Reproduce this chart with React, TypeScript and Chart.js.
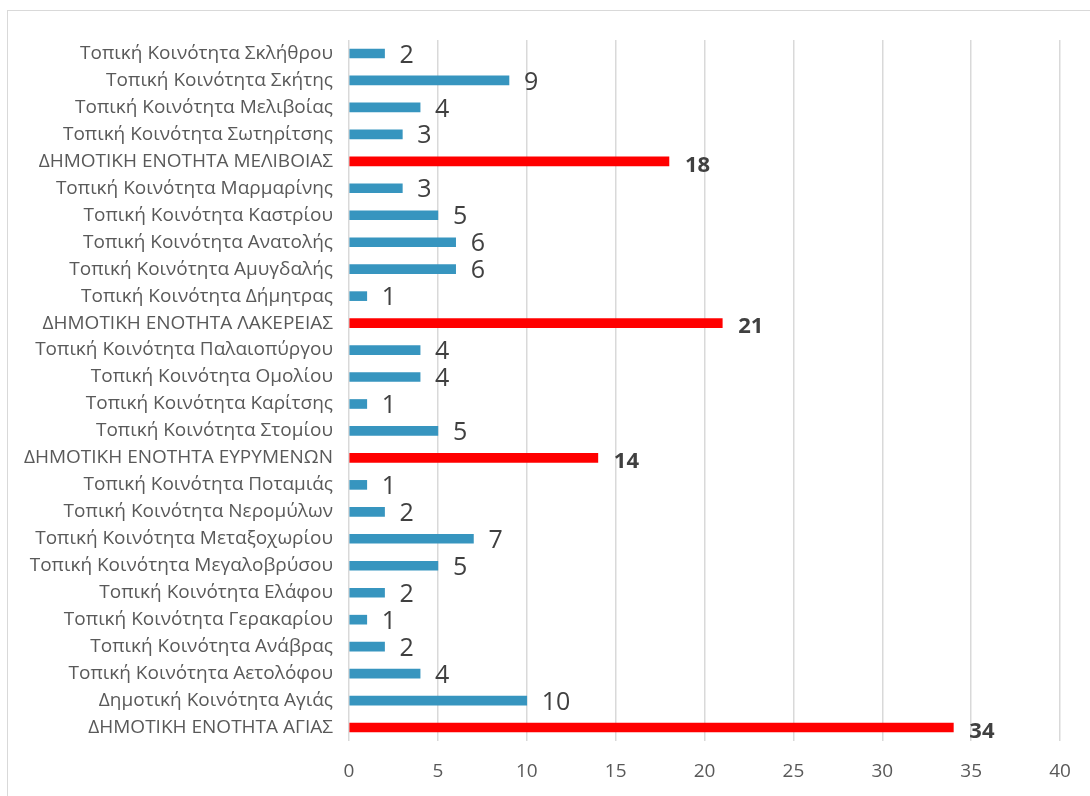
import React, { useEffect, useRef } from "react";
import { Chart, registerables } from "chart.js";

Chart.register(...registerables);

// Communities, top to bottom
const categories: string[] = [
  "Τοπική Κοινότητα Σκλήθρου",
  "Τοπική Κοινότητα Σκήτης",
  "Τοπική Κοινότητα Μελιβοίας",
  "Τοπική Κοινότητα Σωτηρίτσης",
  "ΔΗΜΟΤΙΚΗ ΕΝΟΤΗΤΑ ΜΕΛΙΒΟΙΑΣ",
  "Τοπική Κοινότητα Μαρμαρίνης",
  "Τοπική Κοινότητα Καστρίου",
  "Τοπική Κοινότητα Ανατολής",
  "Τοπική Κοινότητα Αμυγδαλής",
  "Τοπική Κοινότητα Δήμητρας",
  "ΔΗΜΟΤΙΚΗ ΕΝΟΤΗΤΑ ΛΑΚΕΡΕΙΑΣ",
  "Τοπική Κοινότητα Παλαιοπύργου",
  "Τοπική Κοινότητα Ομολίου",
  "Τοπική Κοινότητα Καρίτσης",
  "Τοπική Κοινότητα Στομίου",
  "ΔΗΜΟΤΙΚΗ ΕΝΟΤΗΤΑ ΕΥΡΥΜΕΝΩΝ",
  "Τοπική Κοινότητα Ποταμιάς",
  "Τοπική Κοινότητα Νερομύλων",
  "Τοπική Κοινότητα Μεταξοχωρίου",
  "Τοπική Κοινότητα Μεγαλοβρύσου",
  "Τοπική Κοινότητα Ελάφου",
  "Τοπική Κοινότητα Γερακαρίου",
  "Τοπική Κοινότητα Ανάβρας",
  "Τοπική Κοινότητα Αετολόφου",
  "Δημοτική Κοινότητα Αγιάς",
  "ΔΗΜΟΤΙΚΗ ΕΝΟΤΗΤΑ ΑΓΙΑΣ",
];

const values: number[] = [
  2, 9, 4, 3, 18, 3, 5, 6, 6, 1, 21, 4, 4, 1, 5, 14, 1, 2, 7, 5, 2, 1, 2, 4, 10, 34,
];

const xTicks: number[] = [0, 5, 10, 15, 20, 25, 30, 35, 40];

const FONT = "'Open Sans', 'Noto Sans', sans-serif";
const BLUE = "#3795BF";
const RED = "#FF0000";

const isUnit = (label: string) => label.startsWith("ΔΗΜΟΤΙΚΗ ΕΝΟΤΗΤΑ");

const valueLabels = {
  id: "valueLabels",
  afterDatasetsDraw(chart: any) {
    const ctx = chart.ctx;
    const meta = chart.getDatasetMeta(0);
    ctx.save();
    ctx.textBaseline = "middle";
    ctx.textAlign = "left";
    ctx.fillStyle = "#404040";
    meta.data.forEach((bar: any, i: number) => {
      const unit = isUnit(categories[i]);
      ctx.font = unit ? `bold 22px ${FONT}` : `25px ${FONT}`;
      ctx.fillText(String(values[i]), bar.x + (unit ? 16 : 15), bar.y + (unit ? 4 : 2));
    });
    ctx.restore();
  },
};

export default function App() {
  const ref = useRef<HTMLCanvasElement>(null);

  useEffect(() => {
    if (!ref.current) return;
    const chart = new Chart(ref.current, {
      type: "bar",
      data: {
        labels: categories,
        datasets: [
          {
            data: values,
            backgroundColor: categories.map((c) => (isUnit(c) ? RED : BLUE)),
            barThickness: 9,
            borderWidth: 0,
          },
        ],
      },
      options: {
        indexAxis: "y",
        responsive: false,
        animation: false,
        layout: { padding: { top: 40, right: 30, left: 0, bottom: 0 } },
        plugins: {
          legend: { display: false },
          tooltip: { enabled: false },
        },
        scales: {
          x: {
            min: 0,
            max: 40,
            afterBuildTicks: (scale: any) => {
              scale.ticks = xTicks.map((v) => ({ value: v }));
            },
            afterFit: (scale: any) => {
              scale.height = 55;
            },
            grid: { color: "#D9D9D9", lineWidth: 1.5, drawTicks: false },
            border: { display: false },
            ticks: {
              color: "#595959",
              font: { family: FONT, size: 19 },
              padding: 19,
            },
          },
          y: {
            afterFit: (scale: any) => {
              scale.width = 349;
            },
            grid: { display: false, drawTicks: false },
            border: { display: false },
            ticks: {
              color: "#595959",
              font: { family: FONT, size: 19 },
              padding: 16,
              autoSkip: false,
            },
          },
        },
      },
      plugins: [valueLabels],
    });
    return () => chart.destroy();
  }, []);

  return (
    <div style={{ position: "absolute", left: 0, top: 0, width: 1090, height: 796, overflow: "hidden", background: "#fff" }}>
      <div
        style={{
          position: "absolute",
          left: 7,
          top: 10,
          width: 1100,
          height: 800,
          border: "1px solid #D9D9D9",
          boxSizing: "border-box",
        }}
      />
      <canvas ref={ref} width={1090} height={796} style={{ position: "absolute", left: 0, top: 0 }} />
    </div>
  );
}
